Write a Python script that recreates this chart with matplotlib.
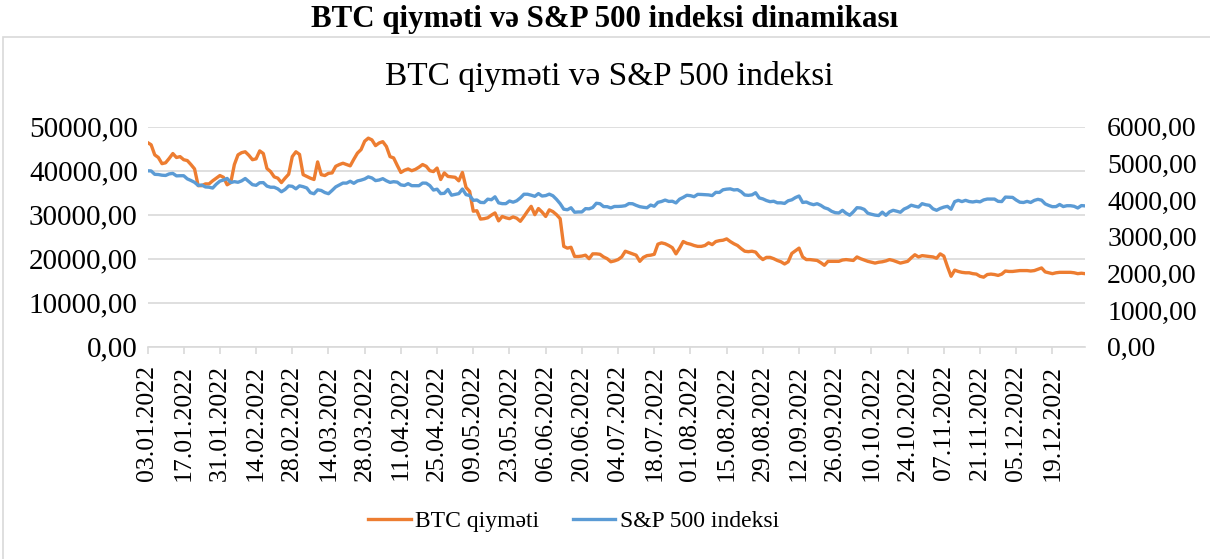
import matplotlib
matplotlib.use("Agg")
import matplotlib.pyplot as plt
from matplotlib.patches import Rectangle
import numpy as np

plt.rcParams['font.family'] = ['Liberation Serif', 'DejaVu Serif']

# ---- data (weekdays 03.01.2022 - 30.12.2022) ----
tick_labels = ["03.01.2022", "17.01.2022", "31.01.2022", "14.02.2022", "28.02.2022",
               "14.03.2022", "28.03.2022", "11.04.2022", "25.04.2022", "09.05.2022",
               "23.05.2022", "06.06.2022", "20.06.2022", "04.07.2022", "18.07.2022",
               "01.08.2022", "15.08.2022", "29.08.2022", "12.09.2022", "26.09.2022",
               "10.10.2022", "24.10.2022", "07.11.2022", "21.11.2022", "05.12.2022",
               "19.12.2022"]

btc = [46400, 45900, 43600, 43000, 41600, 41800, 42800, 43900, 43000, 43200,
       42500, 42300, 41400, 40400, 36600, 36600, 37000, 37000, 37700, 38300,
       38900, 38500, 36800, 37300, 41400, 43600, 44100, 44300, 43500, 42500,
       42700, 44500, 43900, 40500, 39800, 38600, 38300, 37300, 38300, 39200,
       43200, 44300, 43700, 39100, 38700, 38300, 38000, 42000, 39100, 38900,
       39400, 39500, 41000, 41400, 41700, 41400, 41100, 42600, 44000, 44800,
       46700, 47400, 47000, 45700, 46300, 46600, 45500, 43200, 42900, 41200,
       39600, 40100, 40400, 40000, 40300, 40800, 41400, 41000, 40000, 39800,
       40600, 38000, 39500, 38700, 38600, 38500, 37700, 39600, 36200, 35300,
       30800, 30900, 29000, 29100, 29300, 29900, 30400, 28600, 29600, 29300,
       29100, 29500, 29200, 28500, 29600, 30800, 31900, 30000, 31400, 30600,
       29600, 31100, 30700, 30000, 29100, 22800, 22400, 22600, 20500, 20500,
       20600, 20800, 20000, 21100, 21100, 21000, 20400, 20000, 19300, 19500,
       19800, 20400, 21700, 21400, 21100, 20800, 19400, 20300, 20700, 20800,
       21000, 23300, 23600, 23400, 23000, 22500, 21100, 22400, 23900, 23500,
       23300, 23000, 22800, 22800, 23000, 23600, 23200, 23900, 24100, 24200,
       24500, 23900, 23400, 23000, 22300, 21700, 21600, 21700, 21500, 20500,
       19800, 20300, 20300, 20000, 19600, 19300, 18800, 19300, 21200, 21800,
       22400, 20400, 19800, 19800, 19700, 19600, 19100, 18500, 19400, 19400,
       19400, 19400, 19700, 19800, 19700, 19600, 20400, 20000, 19700, 19400,
       19200, 19000, 19200, 19300, 19500, 19800, 19600, 19300, 19000, 19200,
       19400, 20200, 20900, 20400, 20700, 20600, 20500, 20400, 20100, 21100,
       20600, 18200, 16000, 17400, 17100, 16900, 16800, 16800, 16600, 16500,
       16000, 15800, 16400, 16500, 16400, 16200, 16500, 17200, 17100, 17100,
       17200, 17300, 17300, 17300, 17200, 17300, 17600, 17900, 17000, 16800,
       16600, 16800, 16900, 16900, 16900, 16900, 16800, 16600, 16700, 16600]

sp500 = [4797, 4794, 4701, 4696, 4677, 4670, 4713, 4726, 4659, 4663,
         4663, 4577, 4533, 4483, 4398, 4410, 4357, 4350, 4327, 4432,
         4516, 4546, 4589, 4477, 4501, 4484, 4522, 4587, 4504, 4419,
         4401, 4472, 4475, 4380, 4349, 4349, 4305, 4226, 4288, 4385,
         4374, 4306, 4387, 4364, 4329, 4201, 4171, 4278, 4260, 4204,
         4173, 4262, 4358, 4412, 4463, 4461, 4512, 4456, 4520, 4543,
         4575, 4632, 4602, 4530, 4546, 4583, 4525, 4481, 4500, 4488,
         4413, 4397, 4447, 4392, 4392, 4391, 4463, 4460, 4394, 4272,
         4296, 4175, 4183, 4288, 4132, 4155, 4175, 4300, 4147, 4123,
         3991, 4001, 3935, 3930, 4024, 4008, 4088, 3923, 3901, 3901,
         3974, 3941, 3979, 4058, 4158, 4158, 4132, 4101, 4176, 4109,
         4121, 4161, 4116, 4018, 3901, 3750, 3735, 3790, 3667, 3675,
         3675, 3765, 3760, 3796, 3912, 3900, 3821, 3819, 3785, 3825,
         3825, 3831, 3845, 3903, 3899, 3855, 3819, 3802, 3790, 3863,
         3831, 3937, 3960, 3999, 3962, 3967, 3921, 4024, 4072, 4130,
         4119, 4091, 4155, 4152, 4145, 4140, 4122, 4210, 4207, 4280,
         4297, 4305, 4275, 4284, 4228, 4138, 4128, 4141, 4200, 4058,
         4031, 3986, 3955, 3967, 3924, 3924, 3908, 3980, 4006, 4067,
         4110, 3933, 3946, 3901, 3873, 3900, 3856, 3790, 3758, 3693,
         3655, 3647, 3719, 3640, 3586, 3678, 3791, 3783, 3745, 3640,
         3612, 3589, 3577, 3670, 3583, 3677, 3720, 3695, 3666, 3753,
         3797, 3859, 3831, 3808, 3901, 3872, 3856, 3760, 3720, 3771,
         3807, 3828, 3749, 3956, 3993, 3957, 3992, 3959, 3947, 3965,
         3950, 4003, 4027, 4027, 4026, 3964, 3958, 4080, 4076, 4072,
         3999, 3941, 3933, 3963, 3934, 3990, 4019, 3996, 3896, 3852,
         3818, 3821, 3879, 3822, 3845, 3845, 3829, 3783, 3849, 3840]

series_names = ["BTC qiyməti", "S&P 500 indeksi"]
main_title = "BTC qiyməti və S&P 500 indeksi dinamikası"
chart_title = "BTC qiyməti və S&P 500 indeksi"

# ---- figure ----
W, H = 1210, 559
fig = plt.figure(figsize=(W / 100, H / 100), dpi=100)

# chart area border
fig.patches.append(Rectangle((3 / W, -0.02), 1.1, 1 - 37 / H + 0.02, transform=fig.transFigure,
                             fill=False, edgecolor='#D9D9D9', linewidth=1.2))

fig.text(0.5, 1 - 19 / H, main_title, ha='center', va='center', fontsize=22.3, fontweight='bold')
fig.text(609 / W, 1 - 77 / H, chart_title, ha='center', va='center', fontsize=24)

left, right = 147.5 / W, 1085 / W
bottom, top = 1 - 346.7 / H, 1 - 126.7 / H
ax = fig.add_axes([left, bottom, right - left, top - bottom])
ax2 = ax.twinx()

x = np.arange(len(btc))
orange = '#ED7D31'
blue = '#5B9BD5'
l1, = ax.plot(x, btc, color=orange, lw=2.4, solid_joinstyle='round')
l2, = ax2.plot(x, sp500, color=blue, lw=2.4, solid_joinstyle='round')

ax.set_xlim(0, len(btc) - 1)
ax.set_ylim(0, 50000)
ax2.set_ylim(0, 6000)
ax.set_yticks(np.arange(0, 50001, 10000))
ax2.set_yticks(np.arange(0, 6001, 1000))
fmt = lambda v: f"{v:.2f}".replace('.', ',')
ax.set_yticklabels([fmt(v) for v in np.arange(0, 50001, 10000)])
ax2.set_yticklabels([fmt(v) for v in np.arange(0, 6001, 1000)])

ax.set_xticks(np.arange(0, len(tick_labels) * 10, 10))
ax.set_xticklabels(tick_labels, rotation=90, va='top', ha='center')

ax.grid(axis='y', color='#D9D9D9', linewidth=1.2)
ax.set_axisbelow(True)
for a in (ax, ax2):
    for s in ('left', 'right', 'top', 'bottom'):
        a.spines[s].set_visible(False)
ax.spines['bottom'].set_visible(True)
ax.spines['bottom'].set_color('#D9D9D9')
ax.spines['bottom'].set_linewidth(1.2)

ax.tick_params(axis='y', length=0, pad=7, labelsize=21)
ax2.tick_params(axis='y', length=0, pad=16, labelsize=20)
ax.tick_params(axis='x', length=5, width=1.2, color='#D9D9D9', pad=8, labelsize=18.5)

fig.legend([l1, l2], series_names, loc='center', bbox_to_anchor=(0.474, 1 - 521 / H),
           ncol=2, frameon=False, fontsize=17, handlelength=1.8, handletextpad=0.2,
           columnspacing=1.4)

fig.savefig("out.png", dpi=100)
